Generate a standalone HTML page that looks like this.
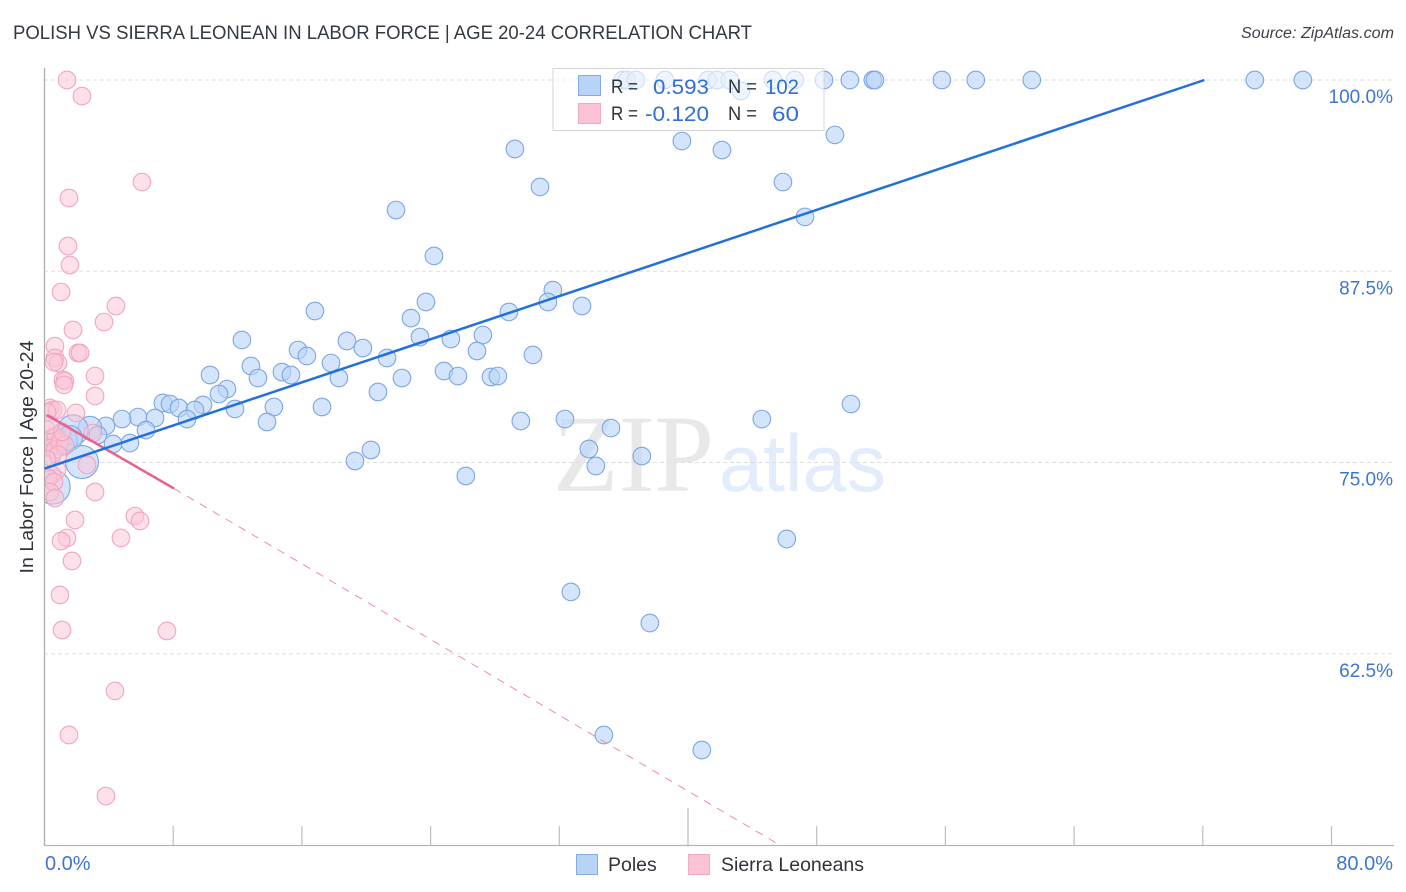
<!DOCTYPE html>
<html lang="en">
<head>
<meta charset="utf-8">
<title>Polish vs Sierra Leonean in Labor Force | Age 20-24 Correlation Chart</title>
<style>
html,body{margin:0;padding:0;background:#fff;}
body{width:1406px;height:892px;overflow:hidden;}
svg{display:block;font-family:"Liberation Sans",sans-serif;}
</style>
</head>
<body>
<svg id="chart" width="1406" height="892" viewBox="0 0 1406 892" xmlns="http://www.w3.org/2000/svg">
  <defs>
    <clipPath id="plot-clip"><rect x="45" y="60" width="1349" height="786"/></clipPath>
  </defs>
  <rect x="0" y="0" width="1406" height="892" fill="#ffffff"/>
  <text x="13" y="39" font-size="19.5" fill="#333a42" textLength="739" lengthAdjust="spacingAndGlyphs">POLISH VS SIERRA LEONEAN IN LABOR FORCE | AGE 20-24 CORRELATION CHART</text>
  <text x="1241" y="38" font-size="15.5" font-style="italic" fill="#3c4248" textLength="153" lengthAdjust="spacingAndGlyphs">Source: ZipAtlas.com</text>
  <text transform="translate(33,457) rotate(-90)" font-size="18.5" fill="#2f343a" text-anchor="middle" textLength="233" lengthAdjust="spacingAndGlyphs">In Labor Force | Age 20-24</text>
  <text x="553" y="491" font-family="'Liberation Serif',serif" font-size="110" fill="#e8e8e8" textLength="161" lengthAdjust="spacingAndGlyphs">ZIP</text>
  <text x="719" y="491" font-size="81" fill="#e2ecfa" textLength="167" lengthAdjust="spacingAndGlyphs">atlas</text>
  <g id="grid"></g>
  <g id="poles" clip-path="url(#plot-clip)"></g>
  <g id="sierra" clip-path="url(#plot-clip)"></g>
  <g id="axes"></g>
  <g id="trends"></g>
  <g id="labels"></g>
  <g>
    <rect x="553" y="68.5" width="271" height="62" fill="#ffffff" fill-opacity="0.62" stroke="#d4d4d4" stroke-width="1"/>
    <rect x="578.5" y="75.5" width="22" height="20" fill="#b7d3f8" stroke="#83abe6" stroke-width="1"/>
    <rect x="578.5" y="103.5" width="22" height="20" fill="#fbc3d5" stroke="#f2a8bf" stroke-width="1"/>
    <text x="611" y="93" font-size="19.5" fill="#2f343a" textLength="27" lengthAdjust="spacingAndGlyphs">R =</text>
    <text x="653" y="94" font-size="21.5" fill="#2f6fd6" textLength="56" lengthAdjust="spacingAndGlyphs">0.593</text>
    <text x="728" y="93" font-size="19.5" fill="#2f343a" textLength="29" lengthAdjust="spacingAndGlyphs">N =</text>
    <text x="765" y="94" font-size="21.5" fill="#2f6fd6" textLength="34" lengthAdjust="spacingAndGlyphs">102</text>
    <text x="611" y="120" font-size="19.5" fill="#2f343a" textLength="27" lengthAdjust="spacingAndGlyphs">R =</text>
    <text x="645" y="121" font-size="21.5" fill="#2f6fd6" textLength="64" lengthAdjust="spacingAndGlyphs">-0.120</text>
    <text x="728" y="120" font-size="19.5" fill="#2f343a" textLength="29" lengthAdjust="spacingAndGlyphs">N =</text>
    <text x="772" y="121" font-size="21.5" fill="#2f6fd6" textLength="27" lengthAdjust="spacingAndGlyphs">60</text>
  </g>
  <g>
    <rect x="576.5" y="854.5" width="21" height="20" fill="#b7d3f8" stroke="#83abe6" stroke-width="1"/>
    <text x="608" y="871" font-size="19.5" fill="#2f343a">Poles</text>
    <rect x="688.5" y="854.5" width="21" height="20" fill="#fbc3d5" stroke="#f2a8bf" stroke-width="1"/>
    <text x="721" y="871" font-size="19.5" fill="#2f343a" textLength="143" lengthAdjust="spacingAndGlyphs">Sierra Leoneans</text>
  </g>
</svg>
<script>
// ---- data (percent values) ----
var xTicks = [0, 8, 16, 24, 32, 40, 48, 56, 64, 72, 80];
var xMajorTick = 40;
var xEdgeLabels = [0, 80];
var yTicks = [100, 87.5, 75, 62.5];

var polesX = [35.95,36.20,36.76,38.56,41.24,41.80,42.60,45.28,46.64,48.45,50.06,51.49,51.62,55.78,57.89,61.37,75.23,78.22,
  43.29,29.24,39.62,42.11,49.13,30.80,45.90,21.85,47.27,24.21,31.60,31.29,33.41,23.71,16.81,28.87,22.78,12.27,23.34,25.26,27.25,
  18.80,15.76,19.79,16.31,26.88,30.36,21.29,12.83,17.81,10.29,14.76,15.32,13.27,18.30,24.83,25.70,27.75,28.18,22.22,20.73,11.34,
  10.85,7.36,7.80,8.36,9.85,9.35,8.86,11.84,14.26,17.25,13.83,50.13,29.61,32.35,44.59,35.21,5.81,6.87,4.82,6.31,3.82,2.83,1.77,
  1.09,1.58,3.32,4.26,5.31,33.84,37.13,20.29,19.30,34.27,26.19,2.33,0.53,46.14,32.72,37.63,34.77,40.86,0.34];
var polesY = [100,100,100,100,100,100,100,100,100,100,100,100,100,100,100,100,100,100,
  99.28,95.49,96.01,95.42,96.41,93.01,93.33,91.50,91.05,88.50,86.27,85.49,85.23,85.49,84.90,84.84,84.44,83.01,83.20,83.07,83.33,
  82.94,82.35,82.48,81.96,82.29,82.03,81.83,81.31,81.50,80.72,80.91,80.72,80.52,80.52,80.98,80.65,80.59,80.65,80.52,79.61,79.80,
  79.48,78.89,78.82,78.56,78.76,78.43,77.84,78.50,78.63,78.63,77.65,78.82,77.71,77.84,77.84,77.25,77.97,77.91,77.84,77.12,77.39,77.25,77.12,
  76.47,76.60,76.80,76.21,76.27,75.88,75.42,75.82,75.10,74.77,74.12,75.03,73.40,70.00,66.54,64.51,57.19,56.21,75.50];
// relative population weight of each bubble (1 = typical)
var polesWeight = [1,1,1,1,1,1,1,1,1,1,1,1,1,1,1,1,1,1,
  1,1,1,1,1,1,1,1,1,1,1,1,1,1,1,1,1,1,1,1,1,
  1,1,1,1,1,1,1,1,1,1,1,1,1,1,1,1,1,1,1,1,1,
  1,1,1,1,1,1,1,1,1,1,1,1,1,1,1,1,1,1,1,1,1,1.8,3,
  3,2,1,1,1,1,1,1,1,1,1,3.5,3.8,1,1,1,1,1,1.5];

var sierraX = [1.40,2.33,6.06,1.52,1.46,1.58,1.03,4.44,3.70,1.77,0.65,0.65,0.84,0.59,2.08,2.21,1.15,1.27,1.21,3.14,3.14,
  0.34,0.53,0.78,0.16,1.96,0.16,3.01,2.64,0.22,0.47,0.71,0.34,0.65,0.96,1.27,0.78,0.47,0.22,0.59,0.34,0.65,3.14,1.90,5.62,
  5.94,4.75,1.40,1.03,1.71,0.96,1.09,7.61,4.38,1.52,3.82,0.84,1.09,0.34,0.16];
var sierraY = [100,98.95,93.33,92.29,89.15,87.91,86.14,85.23,84.18,83.66,82.61,81.83,81.50,81.57,82.16,82.16,80.39,80.33,80.07,80.65,79.35,
  78.56,78.43,78.43,78.30,78.24,77.12,76.93,74.84,76.47,76.60,76.67,75.95,75.82,76.34,76.14,74.51,74.18,73.99,73.72,73.07,72.68,73.07,71.24,71.50,
  71.18,70.07,70.07,69.87,68.56,66.34,64.05,63.99,60.07,57.19,53.20,75.50,77.00,77.45,75.20];

var polesTrendX = [0, 72.1];
var polesTrendY = [74.6, 100];
var sierraSolidX = [0.15, 8.05];
var sierraSolidY = [78.1, 73.3];
var sierraDashX = [8.05, 45.7];
var sierraDashY = [73.3, 50];

// ---- axis functions ----
function xScale(v) { return 44.5 + v * 16.0875; }
function yScale(v) { return 80 + (100 - v) * 15.3; }
var SVG_NS = 'http://www.w3.org/2000/svg';
function make(tag, parent, attrs) {
  var el = document.createElementNS(SVG_NS, tag);
  for (var k in attrs) { el.setAttribute(k, attrs[k]); }
  parent.appendChild(el);
  return el;
}
var grid = document.getElementById('grid');
var axes = document.getElementById('axes');
var labels = document.getElementById('labels');
var polesG = document.getElementById('poles');
var sierraG = document.getElementById('sierra');
var trends = document.getElementById('trends');

// grid lines and y labels
yTicks.forEach(function (t) {
  var line = make('line', grid, {x1: 44, x2: 1394, y1: yScale(t), y2: yScale(t), stroke: '#dedede', 'stroke-width': 1, 'stroke-dasharray': '4 3'});
  
  
  var label = make('text', labels, {x: 1393, y: yScale(t) + 23, 'font-size': 19, fill: '#3e75d4', 'text-anchor': 'end'});
  
  
  label.textContent = t.toFixed(1) + '%';
});

// axes
var yAxis = make('line', axes, {x1: 44.5, x2: 44.5, y1: 68, y2: 846, stroke: '#adadad', 'stroke-width': 1.3});


var xAxis = make('line', axes, {x1: 44, x2: 1394, y1: 845.5, y2: 845.5, stroke: '#b5b5b5', 'stroke-width': 1.3});


xTicks.forEach(function (t) {
  if (t === 0) { return; }
  var top = t === xMajorTick ? 808 : 826;
  var tick = make('line', axes, {x1: xScale(t), x2: xScale(t), y1: top, y2: 845, stroke: '#bdbdbd', 'stroke-width': 1.2});
  
  
});
xEdgeLabels.forEach(function (t, i) {
  var attrs = {y: 870, 'font-size': 20, fill: '#3e75d4'};
  attrs.x = i === 0 ? 45 : 1393;
  attrs['text-anchor'] = i === 0 ? 'start' : 'end';
  var label = make('text', labels, attrs);
  
  
  label.textContent = t.toFixed(1) + '%';
});

// points
polesX.forEach(function (v, i) {
  var c = make('circle', polesG, {cx: xScale(v), cy: yScale(polesY[i]), r: 8.8 * Math.sqrt(polesWeight[i]), fill: '#b7d3f8', 'fill-opacity': 0.6, stroke: '#7ba6e4', 'stroke-width': 1.1});
  
  
});
sierraX.forEach(function (v, i) {
  var c = make('circle', sierraG, {cx: xScale(v), cy: yScale(sierraY[i]), r: 8.8, fill: '#fbc3d5', 'fill-opacity': 0.5, stroke: '#f0a5bd', 'stroke-width': 1.1});
  
  
});

// trend lines
var dash = make('line', trends, {x1: xScale(sierraDashX[0]), y1: yScale(sierraDashY[0]), x2: xScale(sierraDashX[1]), y2: yScale(sierraDashY[1]), stroke: '#ee8aa9', 'stroke-width': 1, 'stroke-dasharray': '8 7'});


var solid = make('line', trends, {x1: xScale(sierraSolidX[0]), y1: yScale(sierraSolidY[0]), x2: xScale(sierraSolidX[1]), y2: yScale(sierraSolidY[1]), stroke: '#e8628f', 'stroke-width': 2.5});


var blue = make('line', trends, {x1: xScale(polesTrendX[0]), y1: yScale(polesTrendY[0]), x2: xScale(polesTrendX[1]), y2: yScale(polesTrendY[1]), stroke: '#2370dc', 'stroke-width': 2.5});


</script>
</body>
</html>
